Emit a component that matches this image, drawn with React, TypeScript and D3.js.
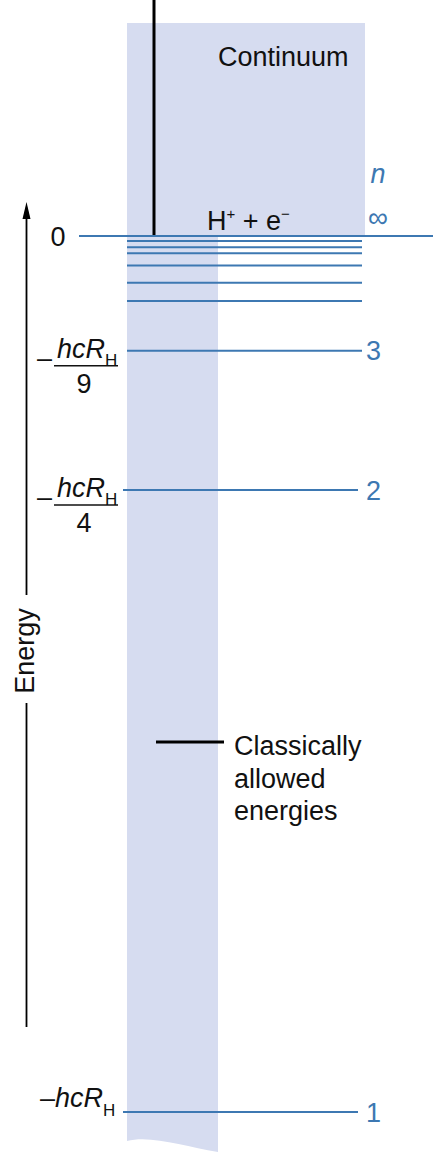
import * as d3 from "d3";

// energy levels in units of hcR_H, as drawn (diagram is schematic above n = 3)
const levelN = [1, 2, 3, 4, 5, 6, 7, 8, 9];
const levelEnergy = [-1, -0.25, -0.113, -0.064, -0.046, -0.029, -0.017, -0.011, -0.005];
// which levels carry a label: n number on the right, fraction on the left
const labelledN = ["1", "2", "3"];
const fractionDenom = ["", "4", "9"];
const axisLabel = "Energy";
const legendLines = ["Classically", "allowed", "energies"];

const W = 433;
const H = 1154;
const FONT = "'Liberation Sans', Arial, Helvetica, sans-serif";
const BLUE = "#3d78b2";
const BAND = "#d6dcf0";

// broken (piecewise) energy scale: the n = 1 gap is compressed
const y = d3.scaleLinear().domain([-1, -0.25, 0]).range([1112, 490, 236]);

export default function App() {
  const y0 = y(0);
  const bandX0 = 127;
  const bandX1 = 218;
  const contX1 = 365;

  const bandPath = d3.path();
  bandPath.moveTo(bandX0, 23);
  bandPath.lineTo(contX1, 23);
  bandPath.lineTo(contX1, y0);
  bandPath.lineTo(bandX1, y0);
  bandPath.lineTo(bandX1, 1152);
  bandPath.bezierCurveTo(185, 1147, 152, 1135, bandX0, 1141);
  bandPath.closePath();

  const levels = levelN.map((n, i) => ({ n, e: levelEnergy[i] }));

  return (
    <svg width={W} height={H} style={{ position: "absolute", left: 0, top: 0 }} fontFamily={FONT}>
      <rect width={W} height={H} fill="#fff" />
      <path d={bandPath.toString()} fill={BAND} />

      {/* continuum marker */}
      <line x1={154} x2={154} y1={0} y2={y0} stroke="#000" strokeWidth={3} />
      <text x={218} y={66} fontSize={27} fill="#111">Continuum</text>
      <text x={207} y={230} fontSize={27} fill="#111">
        H<tspan fontSize={15} dy={-11}>+</tspan>
        <tspan dy={11}> + e</tspan>
        <tspan fontSize={15} dy={-11}>−</tspan>
      </text>
      <text x={378} y={183} fontSize={27} fill={BLUE} fontStyle="italic" textAnchor="middle">n</text>
      <text x={378} y={227} fontSize={28} fill={BLUE} textAnchor="middle">∞</text>

      {/* ionisation limit */}
      <line x1={79} x2={W} y1={y0} y2={y0} stroke={BLUE} strokeWidth={2} />
      <text x={58} y={y0 + 10} fontSize={27} fill="#111" textAnchor="middle">0</text>

      {levels.map((d) => (
        <line
          key={d.n}
          x1={d.n <= 2 ? 123 : 127}
          x2={d.n <= 2 ? 358 : 362}
          y1={y(d.e)}
          y2={y(d.e)}
          stroke={BLUE}
          strokeWidth={2}
        />
      ))}

      {labelledN.map((lab, i) => {
        const yy = y(levelEnergy[i]);
        return (
          <text key={lab} x={366} y={yy + 9.5} fontSize={27} fill={BLUE}>
            {lab}
          </text>
        );
      })}

      {fractionDenom.map((den, i) => {
        const yy = y(levelEnergy[i]);
        if (!den) {
          return (
            <text key={i} x={40} y={yy - 5} fontSize={27} fill="#111">
              –<tspan fontStyle="italic">hcR</tspan>
              <tspan fontSize={17} dy={9}>H</tspan>
            </text>
          );
        }
        return (
          <g key={i}>
            <text x={37} y={yy + 16} fontSize={27} fill="#111">–</text>
            <text x={57} y={yy + 7} fontSize={27} fill="#111">
              <tspan fontStyle="italic">hcR</tspan>
              <tspan fontSize={17} dy={8}>H</tspan>
            </text>
            <line x1={54} x2={118} y1={yy + 15} y2={yy + 15} stroke="#111" strokeWidth={1.5} />
            <text x={84} y={yy + 42} fontSize={27} fill="#111" textAnchor="middle">
              {den}
            </text>
          </g>
        );
      })}

      {/* energy axis */}
      <line x1={26.5} x2={26.5} y1={216} y2={595} stroke="#000" strokeWidth={1.8} />
      <line x1={26.5} x2={26.5} y1={703} y2={1027} stroke="#000" strokeWidth={1.8} />
      <path d="M26.5,202 L22.5,219 L30.5,219 Z" fill="#000" />
      <text
        transform="translate(34,651) rotate(-90)"
        fontSize={27}
        fill="#111"
        textAnchor="middle"
      >
        {axisLabel}
      </text>

      {/* legend */}
      <line x1={156} x2={224} y1={742} y2={742} stroke="#000" strokeWidth={3} />
      {legendLines.map((t, i) => (
        <text key={t} x={234} y={755 + i * 32.5} fontSize={27} fill="#111">
          {t}
        </text>
      ))}
    </svg>
  );
}
